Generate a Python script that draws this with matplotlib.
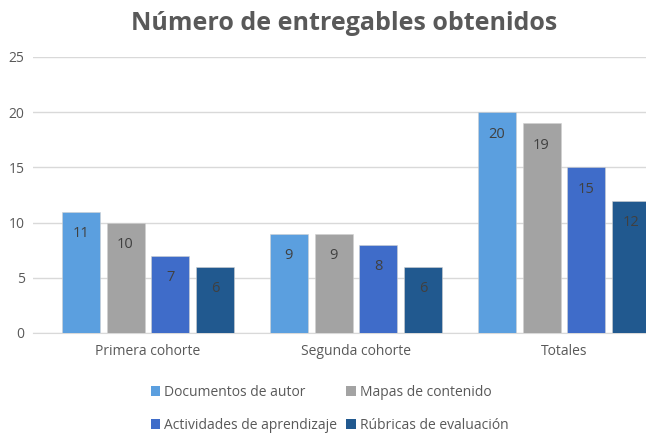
import numpy as np
import matplotlib.pyplot as plt
from matplotlib.patches import Patch

categories = ['Primera cohorte', 'Segunda cohorte', 'Totales']
series = ['Documentos de autor', 'Mapas de contenido',
          'Actividades de aprendizaje', 'Rúbricas de evaluación']
documentos = [11, 9, 20]
mapas = [10, 9, 19]
actividades = [7, 8, 15]
rubricas = [6, 6, 12]
values = [documentos, mapas, actividades, rubricas]
colors = ['#5b9fdf', '#a3a3a3', '#3f6cc9', '#21598f']

plt.rcParams['font.family'] = ['Open Sans', 'DejaVu Sans']

fig = plt.figure(figsize=(6.46, 4.34), dpi=100)
ax = fig.add_axes([33 / 646, 1 - 333 / 434, 613 / 646, 276 / 434])

x = np.arange(len(categories))
step = 0.216
width = 0.183
for i, (vals, col) in enumerate(zip(values, colors)):
    pos = x + (i - 1.5) * step
    bars = ax.bar(pos, vals, width, color=col, zorder=3,
                  edgecolor='#d0d0d0', linewidth=0.4)
    for b, v in zip(bars, vals):
        ax.text(b.get_x() + b.get_width() / 2, v - 1.3, str(v),
                ha='center', va='top', fontsize=10.5, color='#404040',
                zorder=4)

ax.set_ylim(0, 25)
ax.set_yticks(range(0, 26, 5))
ax.set_xlim(-(148 - 33) / 208, (646 - 148) / 208)
ax.set_xticks(x)
ax.set_xticklabels(categories)
ax.grid(axis='y', color='#d9d9d9', linewidth=1, zorder=0)
for s in ['top', 'right', 'left']:
    ax.spines[s].set_visible(False)
ax.spines['bottom'].set_color('#d9d9d9')
ax.tick_params(axis='both', length=0, labelsize=10, colors='#595959')
ax.tick_params(axis='y', pad=6)
ax.tick_params(axis='x', pad=8)

fig.text(0.533, 0.945, 'Número de entregables obtenidos', ha='center',
         va='center', fontsize=18, fontweight='bold', color='#595959')

# legend fills row by row: reorder for column-major layout
order = [0, 2, 1, 3]
handles = [Patch(facecolor=colors[k]) for k in order]
labels = [series[k] for k in order]
fig.legend(handles, labels, ncol=2, loc='center', bbox_to_anchor=(0.51, 0.058),
           frameon=False, fontsize=10, labelcolor='#595959',
           handlelength=0.7, handleheight=0.7, handletextpad=0.3,
           columnspacing=0.6, labelspacing=1.3)

fig.savefig('out.png', dpi=100)
